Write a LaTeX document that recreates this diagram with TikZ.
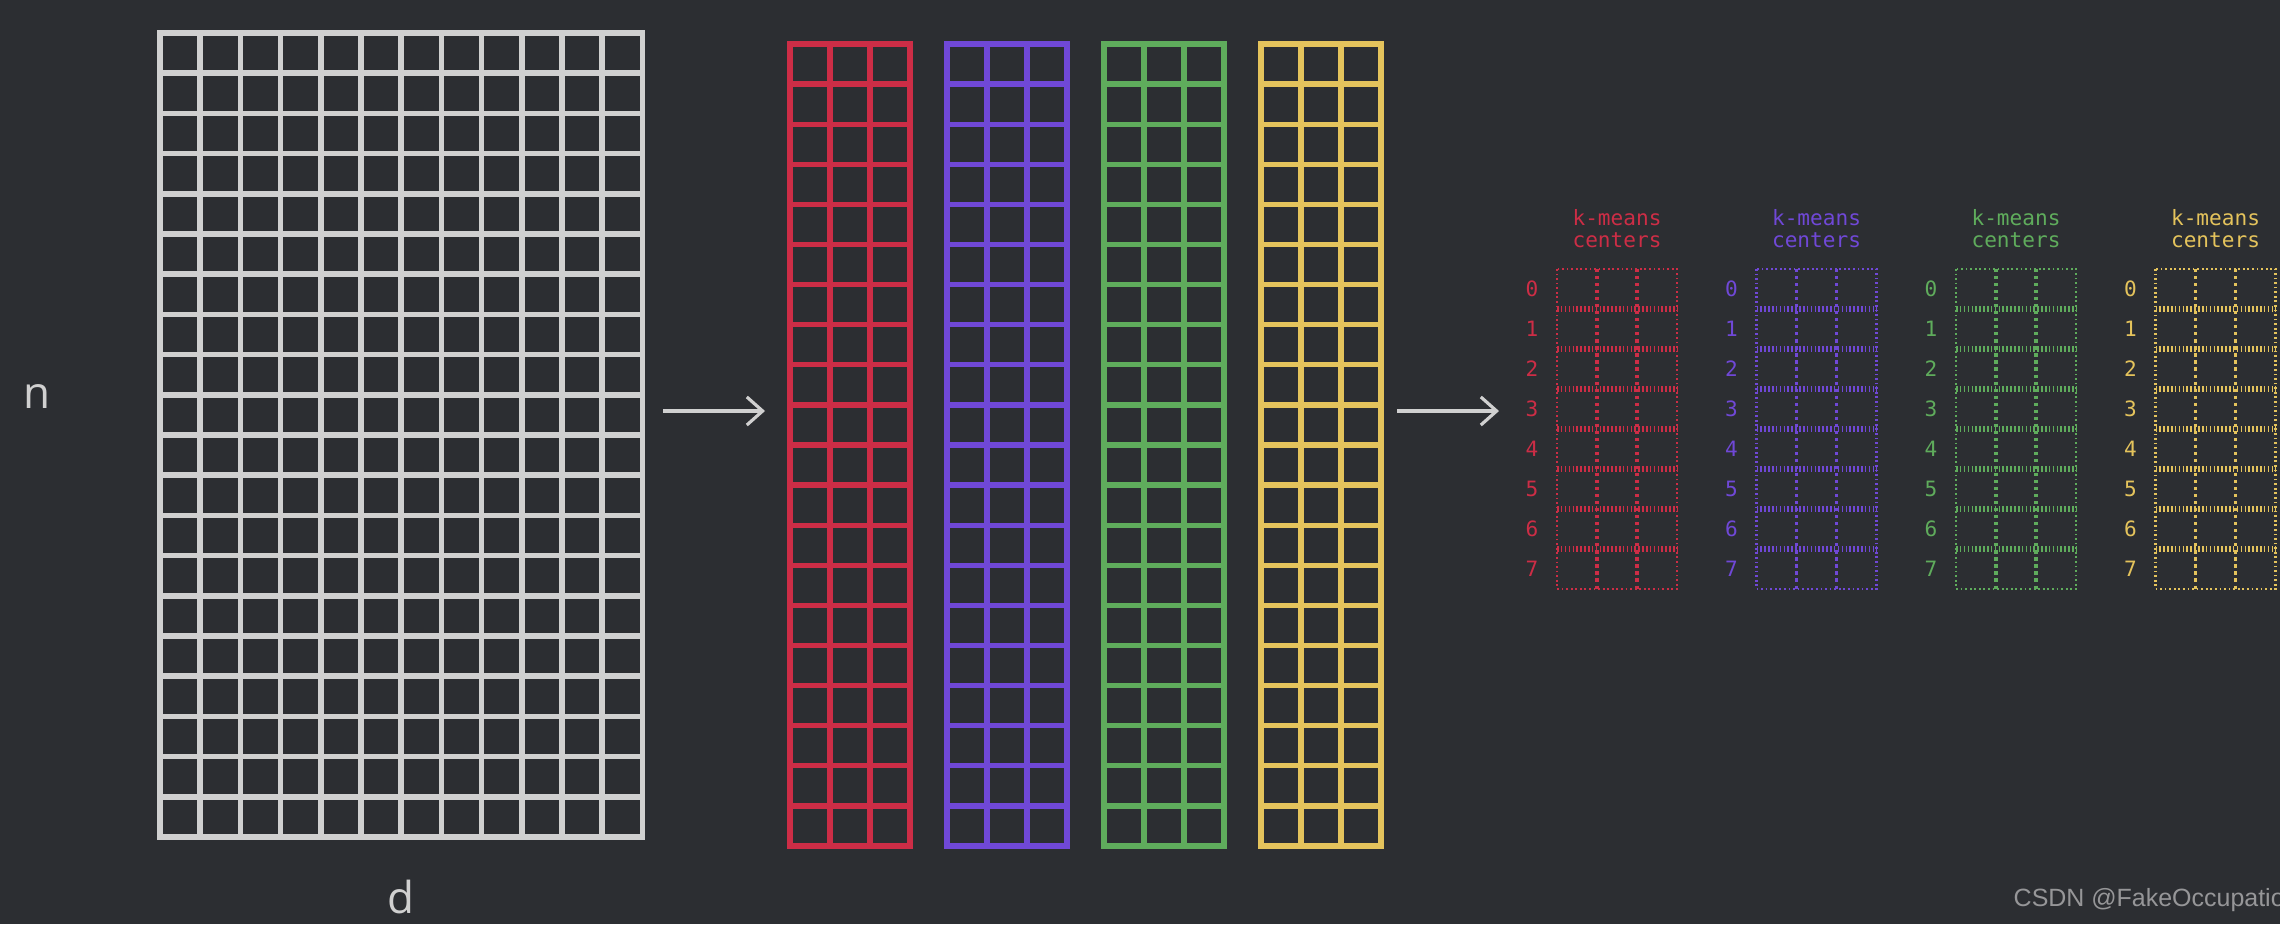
\documentclass[tikz,border=0pt]{standalone}
\usepackage{fontspec}
\setmainfont{Open Sans}
\newfontfamily\monofont{DejaVu Sans Mono}
\newfontfamily\markfont{Liberation Sans}
\usepackage{tikz}
\usetikzlibrary{arrows.meta}
\usepackage{xcolor}
\definecolor{bgc}{RGB}{44,46,50}
\definecolor{matgray}{RGB}{208,208,208}
\definecolor{wmgray}{RGB}{150,150,152}
\definecolor{cred}{RGB}{205,45,70}
\definecolor{cpurple}{RGB}{112,72,215}
\definecolor{cgreen}{RGB}{95,172,92}
\definecolor{cyellow}{RGB}{228,195,92}

\begin{document}
\begin{tikzpicture}[x=0.01cm, y=-0.01cm,
		matline/.style={draw=matgray, line width=1.6pt, line cap=rect},
		subline/.style={line width=1.5pt, line cap=rect},
		ctrborder/.style={line width=0.6pt, dash pattern=on 0.5pt off 0.8pt},
		ctrrow/.style={line width=1.5pt, dash pattern=on 0.45pt off 0.65pt},
		ctrcol/.style={line width=1.1pt, dash pattern=on 0.9pt off 1.1pt},
		flow/.style={draw=matgray, line width=0.9pt, -{Straight Barb[length=4.5pt, width=8pt]}},
		axislabel/.style={text=matgray, font=\fontsize{12.5}{15}\selectfont},
		ctrlabel/.style={font=\monofont\fontsize{6}{6.3}\selectfont, align=center, inner sep=0pt}]
	\fill[bgc] (0,0) rectangle (2280,924);
	\useasboundingbox (0,0) rectangle (2280,924);
	\clip (0,0) rectangle (2280,924);
	% n x d data
	\foreach \i in {0,...,12}
		\draw[matline] ({160+40.2*\i},33) -- ({160+40.2*\i},837);
	\foreach \j in {0,...,20}
		\draw[matline] (160,{33+40.2*\j}) -- (642.4,{33+40.2*\j});
	\node[axislabel] (nlab) at (37,397) {n};
	\node[axislabel] (dlab) at (401,897) {d};
	% sub-vectors
	\foreach \c [count=\k from 0] in {cred,cpurple,cgreen,cyellow} {
		\pgfmathsetmacro{\xa}{790+157*\k}
		\foreach \i in {0,...,3}
			\draw[subline, draw=\c] ({\xa+40*\i},44) -- ({\xa+40*\i},846);
		\foreach \j in {0,...,20}
			\draw[subline, draw=\c] (\xa,{44+40.1*\j}) -- ({\xa+120},{44+40.1*\j});
	}
	% centroid tables
	\foreach \c [count=\k from 0] in {cred,cpurple,cgreen,cyellow} {
		\pgfmathsetmacro{\xb}{1557+199.5*\k}
		\draw[ctrborder, draw=\c] (\xb,269) rectangle ({\xb+120},589);
		\foreach \i in {1,2}
			\draw[ctrcol, draw=\c] ({\xb+40*\i},269) -- ({\xb+40*\i},589);
		\foreach \j in {1,...,7}
			\draw[ctrrow, draw=\c] (\xb,{269+40*\j}) -- ({\xb+120},{269+40*\j});
		\node[ctrlabel, text=\c] (title\k) at ({\xb+60},229) {k-means\\centers};
		\foreach \r in {0,...,7}
			\node[ctrlabel, text=\c] (idx\k-\r) at ({\xb-25},{289+40*\r}) {\r};
	}
	\coordinate (arrA0) at (663,411);
	\coordinate (arrA1) at (765,411);
	\coordinate (arrB0) at (1397,411);
	\coordinate (arrB1) at (1499,411);
	\draw[flow] (arrA0) -- (arrA1);
	\draw[flow] (arrB0) -- (arrB1);
	\node[font=\markfont\fontsize{7.1}{8}\selectfont, text=wmgray, anchor=west, inner sep=0pt] (mark) at (2013,900) {CSDN @FakeOccupatio};
\end{tikzpicture}
\end{document}
